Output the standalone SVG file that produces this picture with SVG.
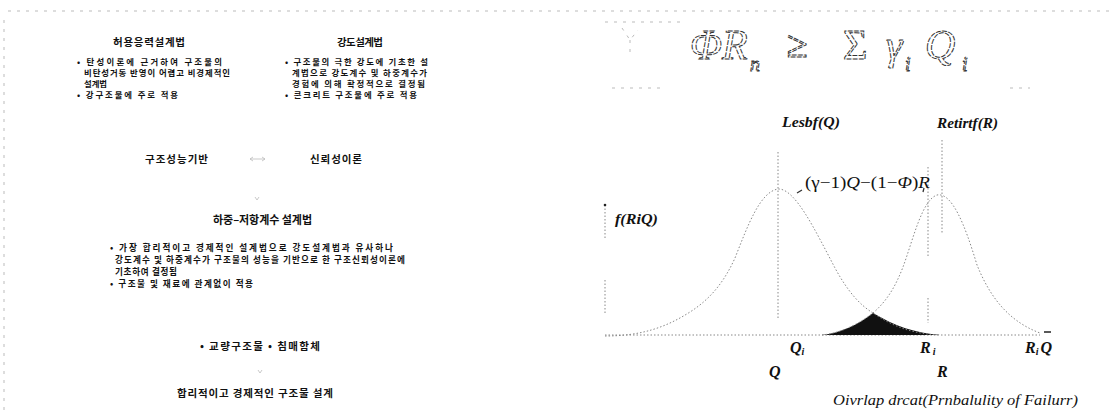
<svg xmlns="http://www.w3.org/2000/svg" width="1113" height="416" viewBox="0 0 1113 416">
<style>
.kt{font-family:"Noto Sans CJK KR","Noto Sans",sans-serif;font-weight:bold;fill:#111;}
.tt{font-size:10.5px;}
.bl{font-size:8.4px;}
.bm{font-size:8.6px;}
.mi{font-family:"Liberation Serif","DejaVu Serif",serif;font-style:italic;font-weight:bold;fill:#111;}
.mr{font-family:"Liberation Serif","DejaVu Serif",serif;fill:#111;}
.dot{fill:none;stroke:#888;stroke-width:1;stroke-dasharray:1.5 2;}
.faint{fill:none;stroke:#bbb;stroke-width:1;stroke-dasharray:3 6;}
.outl{font-family:"Liberation Serif","DejaVu Serif",serif;font-style:italic;fill:#fff;stroke:#333;stroke-width:1;stroke-dasharray:5 1.2;}
</style>
<rect width="1113" height="416" fill="#fff"/>
<g id="scan-edges">
<path class="faint" d="M8,11 H1110"/>
<path class="faint" d="M4,20 V410"/>
<path class="faint" d="M605,22 H680 M612,88 H660 M1010,88 H1030 M622,28 L630,40 L638,30 M630,40 V55"/>
</g>
<g id="asd">
<text class="kt tt" x="113" y="46" textLength="72" lengthAdjust="spacing">허용응력설계법</text>
<text class="kt bl" x="77" y="65" textLength="145" lengthAdjust="spacing">• 탄성이론에 근거하여 구조물의</text>
<text class="kt bl" x="84" y="76" textLength="146" lengthAdjust="spacing">비탄성거동 반영이 어렵고 비경제적인</text>
<text class="kt bl" x="84" y="87" textLength="23" lengthAdjust="spacing">설계법</text>
<text class="kt bl" x="77" y="98" textLength="101" lengthAdjust="spacing">• 강구조물에 주로 적용</text>
</g>
<g id="usd">
<text class="kt tt" x="337" y="46" textLength="46" lengthAdjust="spacing">강도설계법</text>
<text class="kt bl" x="285" y="65" textLength="143" lengthAdjust="spacing">• 구조물의 극한 강도에 기초한 설</text>
<text class="kt bl" x="292" y="76" textLength="135" lengthAdjust="spacing">계법으로 강도계수 및 하중계수가</text>
<text class="kt bl" x="292" y="87" textLength="133" lengthAdjust="spacing">경험에 의해 확정적으로 결정됨</text>
<text class="kt bl" x="285" y="98" textLength="132" lengthAdjust="spacing">• 콘크리트 구조물에 주로 적용</text>
</g>
<g id="perf">
<text class="kt tt" x="145" y="163" textLength="63" lengthAdjust="spacing">구조성능기반</text>
</g>
<g id="rel">
<text class="kt tt" x="310" y="163" textLength="52" lengthAdjust="spacing">신뢰성이론</text>
</g>
<g id="lrfd">
<text class="kt" style="font-size:11px" x="213" y="224" textLength="99" lengthAdjust="spacing">하중–저항계수 설계법</text>
<text class="kt bm" x="110" y="251" textLength="283" lengthAdjust="spacing">• 가장 합리적이고 경제적인 설계법으로 강도설계법과 유사하나</text>
<text class="kt bm" x="115" y="263" textLength="290" lengthAdjust="spacing">강도계수 및 하중계수가 구조물의 성능을 기반으로 한 구조신뢰성이론에</text>
<text class="kt bm" x="115" y="275" textLength="62" lengthAdjust="spacing">기초하여 결정됨</text>
<text class="kt bm" x="110" y="287" textLength="143" lengthAdjust="spacing">• 구조물 및 재료에 관계없이 적용</text>
</g>
<g id="app">
<text class="kt tt" x="200" y="350" textLength="120" lengthAdjust="spacing">• 교량구조물 • 침매함체</text>
</g>
<g id="goal">
<text class="kt tt" x="177" y="397" textLength="156" lengthAdjust="spacing">합리적이고 경제적인 구조물 설계</text>
</g>
<g id="connectors" fill="none" stroke="#bbb" stroke-width="0.8">
<path d="M250,159 H265 M250,159 l3,-2 M250,159 l3,2 M265,159 l-3,-2 M265,159 l-3,2"/>
<path d="M255,197 l2,3 l2,-3"/>
<path d="M258,370 l2,3 l2,-3"/>
</g>
<g id="formula">
<text class="outl" font-size="42" y="59"><tspan x="690">Φ</tspan><tspan x="722">R</tspan><tspan x="750" y="71" font-size="20">n</tspan><tspan x="787" y="57" font-size="38" style="font-style:normal">≥</tspan><tspan x="843" y="59" style="font-style:normal">Σ</tspan><tspan x="886">γ</tspan><tspan x="905" y="71" font-size="20">i</tspan><tspan x="925" y="59">Q</tspan><tspan x="962" y="71" font-size="20">i</tspan></text>
</g>
<g id="graph">
<path class="dot" d="M605,205 V240 M605,280 V315"/>
<circle cx="605" cy="205" r="1.3" fill="#222"/>
<path class="dot" d="M605,335 H1040"/>
<path d="M1044,332 h7" stroke="#222" stroke-width="1.5"/>
<path class="dot" d="M778,152 V320"/>
<path class="dot" d="M942,140 V233"/>
<path class="dot" d="M928,167 V257 M928,298 V323"/>
<path d="M822,335 C840,333 858,325 873,313 C895,326 915,333 940,335 Z" fill="#111"/>
<path class="dot" d="M605,336 C640,336 665,328 690,312 C712,298 725,280 735,258 C748,225 760,192 778,189 C795,188 815,230 835,268 C848,292 860,305 873,313 C895,328 915,334 940,335"/>
<path class="dot" d="M822,335 C842,333 860,323 873,313 C888,300 896,285 903,267 C913,240 922,200 937,195 C952,192 965,225 977,265 C988,292 1005,320 1040,333"/>
<path d="M797,193 l5,-3 M923,192 l1,-4" stroke="#333" stroke-width="1.3" fill="none"/>
</g>
<g id="labels">
<text class="mi" font-size="15" x="782" y="127" textLength="58" lengthAdjust="spacingAndGlyphs">Lesbf(Q)</text>
<text class="mi" font-size="15" x="937" y="128" textLength="61" lengthAdjust="spacingAndGlyphs">Retirtf(R)</text>
<text class="mi" font-size="15" x="615" y="224" textLength="43" lengthAdjust="spacingAndGlyphs">f(RiQ)</text>
<text class="mr" font-size="17" x="805" y="188" textLength="125" lengthAdjust="spacingAndGlyphs">(γ−1)<tspan font-style="italic">Q</tspan>−(1−<tspan font-style="italic">Φ</tspan>)<tspan font-style="italic">R</tspan></text>
<text class="mi" font-size="16" x="790" y="353">Q<tspan font-size="10" dy="2">i</tspan></text>
<text class="mi" font-size="16" x="920" y="353">R<tspan font-size="10" dx="2" dy="2">i</tspan></text>
<text class="mi" font-size="16" x="1025" y="353">R<tspan font-size="10" dy="2">i</tspan><tspan dx="2" dy="-2">Q</tspan></text>
<text class="mi" font-size="16" x="769" y="377">Q</text>
<text class="mi" font-size="16" x="937" y="377">R</text>
<text class="mr" font-size="15" font-style="italic" x="833" y="405" textLength="245" lengthAdjust="spacingAndGlyphs">Oivrlap drcat(Prnbalulity of Failurr)</text>
</g>
</svg>
